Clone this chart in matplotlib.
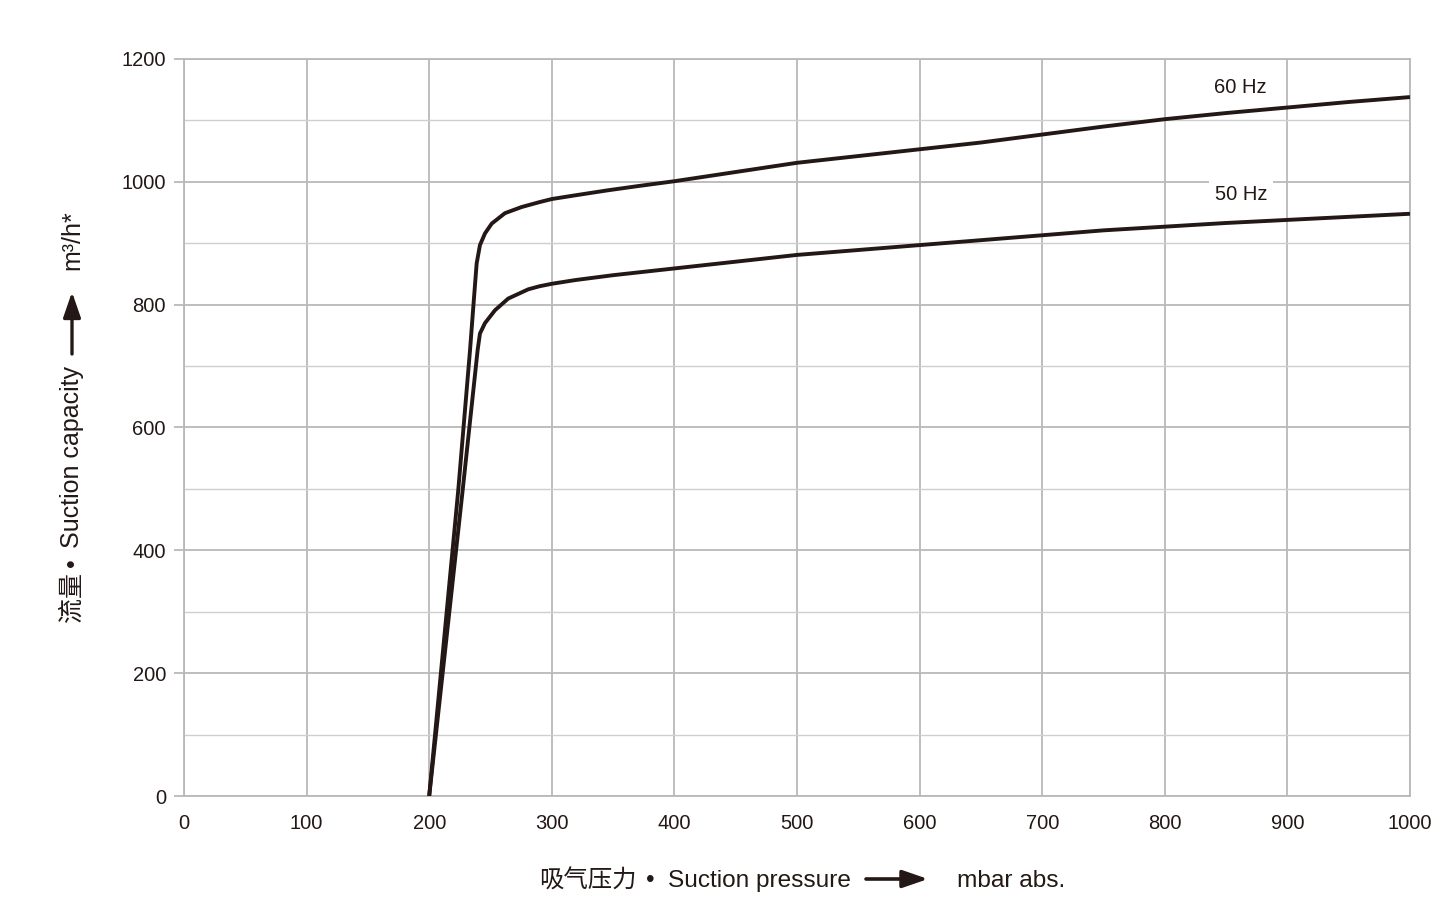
import matplotlib
matplotlib.use("Agg")
import matplotlib.pyplot as plt
from matplotlib.patches import FancyArrowPatch
from matplotlib.ticker import MultipleLocator

plt.rcParams['font.family'] = ['Liberation Sans', 'Noto Sans CJK SC', 'DejaVu Sans']

# Data
p60 = [200, 223.7, 233.3, 236, 238.7, 241.4, 245.5, 251, 261.8, 275.4, 290, 300, 319, 345,
       370, 400, 450, 500, 550, 600, 650, 700, 750, 800, 850, 900, 950, 1000]
q60 = [0, 498, 726, 797, 867, 897, 916, 932, 949, 959, 967, 972, 978, 986,
       993, 1001, 1016, 1031, 1042, 1053, 1064, 1077, 1090, 1102, 1112, 1121, 1130, 1138]

p50 = [200, 227.3, 239.5, 241.4, 245.5, 253.7, 264.5, 280.8, 290, 300, 319, 350,
       400, 450, 500, 550, 600, 650, 700, 750, 800, 850, 900, 950, 1000]
q50 = [0, 498, 726, 753, 770, 791, 810, 825, 830, 834, 840, 848,
       859, 870, 881, 889, 897, 905, 913, 921, 927, 933, 938, 943, 948]

x_ticks = [0, 100, 200, 300, 400, 500, 600, 700, 800, 900, 1000]
y_ticks = [0, 200, 400, 600, 800, 1000, 1200]

W, H = 1433, 905
fig = plt.figure(figsize=(W / 100, H / 100), dpi=100)
ax = fig.add_axes([184 / W, 1 - 796 / H, (1410 - 184) / W, (796 - 59) / H])

txt_c = '#231815'
line_c = '#231815'
grid_c = '#b9b9b9'
ax.plot(p60, q60, color=line_c, lw=2.8, solid_joinstyle='round', solid_capstyle='butt', zorder=3)
ax.plot(p50, q50, color=line_c, lw=2.8, solid_joinstyle='round', solid_capstyle='butt', zorder=3)

ax.set_xlim(0, 1000)
ax.set_ylim(0, 1200)
ax.set_xticks(x_ticks)
ax.set_yticks(y_ticks)
ax.yaxis.set_minor_locator(MultipleLocator(100))
ax.grid(True, which='major', color=grid_c, lw=1.3, zorder=0)
ax.grid(True, which='minor', axis='y', color='#cfcfcf', lw=1.0, zorder=0)
for s in ax.spines.values():
    s.set_color(grid_c)
    s.set_linewidth(1.3)
ax.tick_params(axis='y', which='major', length=7, width=1.3, color=grid_c, pad=6,
               labelsize=14.5, labelcolor=txt_c)
ax.tick_params(axis='y', which='minor', length=0)
ax.tick_params(axis='x', length=0, pad=13, labelsize=14.5, labelcolor=txt_c)

ax.text(862, 1153, '60 Hz', ha='center', va='center', fontsize=14.5, color=txt_c, zorder=4)
ax.text(862, 980, '50 Hz', ha='center', va='center', fontsize=14.5, color=txt_c, zorder=4,
        bbox=dict(boxstyle='square,pad=0.3', fc='white', ec='none'))

arrow_style = '-|>,head_length=1.1,head_width=0.38'

# X-axis label
ty = 1 - 881 / H
fs = 17.6
fig.text(637 / W, ty, '吸气压力', ha='right', va='center', fontsize=fs, color=txt_c)
fig.text(650 / W, ty, '•', ha='center', va='center', fontsize=fs, color=txt_c)
fig.text(668 / W, ty, 'Suction pressure', ha='left', va='center', fontsize=fs, color=txt_c)
fig.text(957 / W, ty, 'mbar abs.', ha='left', va='center', fontsize=fs, color=txt_c)
fig.patches.append(FancyArrowPatch(
    (866 / W, 1 - 879 / H), (928 / W, 1 - 879 / H), transform=fig.transFigure, arrowstyle=arrow_style,
    mutation_scale=14, color=txt_c, lw=2.6, shrinkA=0, shrinkB=0))

# Y-axis label
tx = 72 / W
fig.text(tx, 1 - 622 / H, '流量', rotation=90, ha='center', va='bottom', fontsize=18, color=txt_c)
fig.text(tx, 1 - 563 / H, '•', rotation=90, ha='center', va='center', fontsize=18, color=txt_c)
fig.text(tx, 1 - 548 / H, 'Suction capacity', rotation=90, ha='center', va='bottom',
         fontsize=18, color=txt_c)
fig.text(tx, 1 - 270 / H, 'm³/h*', rotation=90, ha='center', va='bottom', fontsize=18, color=txt_c)
fig.patches.append(FancyArrowPatch(
    (tx, 1 - 354 / H), (tx, 1 - 292 / H), transform=fig.transFigure, arrowstyle=arrow_style,
    mutation_scale=14, color=txt_c, lw=2.4, shrinkA=0, shrinkB=0))

fig.savefig('out.png', dpi=100, facecolor='white')
